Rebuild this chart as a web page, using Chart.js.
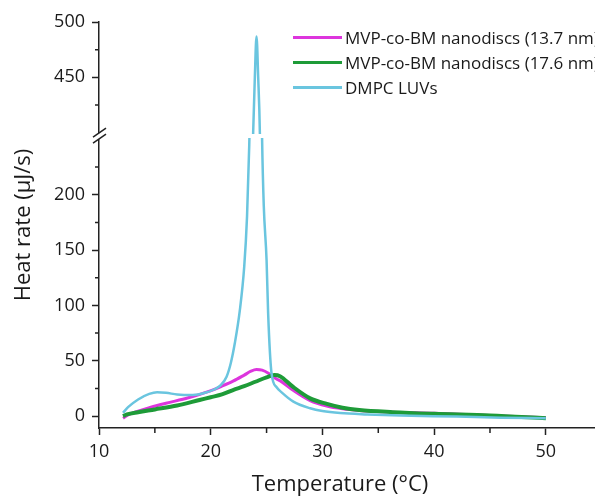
<!DOCTYPE html>
<html>
<head>
<meta charset="utf-8">
<script src="https://cdn.jsdelivr.net/npm/chart.js@4.4.1/dist/chart.umd.min.js"></script>
<style>
body { margin: 0; background: #fff; overflow: hidden; }
#wrap { position: relative; width: 595px; height: 496px; overflow: hidden; }
#legend { position: absolute; left: 293px; top: 25px; font: 17px 'Open Sans', sans-serif; color: #1a1a1a; white-space: nowrap; }
.row { height: 25px; display: flex; align-items: center; }
.row .ln { display: inline-block; width: 49px; height: 3px; margin-right: 3px; }
</style>
</head>
<body>
<div id="wrap"><canvas id="c" width="595" height="496"></canvas><div id="legend"></div></div>
<script>
// values
const dmpcT = [12.15, 12.6, 13.5, 14.5, 15.2, 16, 17, 18.4, 19.5, 20.3, 20.9, 21.42, 21.8, 22.16, 22.6, 23.0, 23.25, 23.45, 23.8, 23.95, 24.1,
               24.25, 24.4, 24.6, 24.75, 25.0, 25.14, 25.44, 25.9, 26.4, 27.4, 28.9, 30, 31.6, 34, 37, 42, 46, 50];
const dmpcV = [3, 8, 15, 20, 21.5, 21, 19.5, 19, 21, 24, 28, 35.6, 48, 66, 95, 135, 180, 245, 400, 450, 487,
               450, 400, 250, 190, 141, 93, 39, 26, 21, 13, 7, 4.5, 2.7, 1.5, 0.5, -0.5, -1.5, -2];

const nd137T = [12.15, 12.6, 13.5, 14.5, 16, 18, 19.9, 21, 22, 23, 23.6, 24.1, 24.6, 25.2, 25.9, 26.2, 27.35, 28.9, 30.4, 31.8, 33.3, 36.3, 40, 45, 50];
const nd137V = [-2, 1, 4.5, 7.5, 11.5, 16.5, 22.5, 27, 31.5, 37, 40.5, 42, 41.5, 38.5, 33.5, 32, 23.5, 14, 9, 6.5, 5, 3.5, 2.5, 0.5, -1.5];

const nd176T = [12.15, 12.5, 13.5, 15, 17, 19, 20, 21, 22, 23, 24, 25, 25.7, 26.2, 27.35, 28.9, 30.4, 31.8, 33.3, 36.3, 40, 45, 50];
const nd176V = [0, 1.5, 3.5, 6, 9.5, 14.5, 17, 19.5, 23.5, 27, 31, 35, 37, 36, 26.5, 16, 11, 7.5, 5.4, 3.5, 2, 0.5, -2];

const seriesNames = ['MVP-co-BM nanodiscs (13.7 nm)', 'MVP-co-BM nanodiscs (17.6 nm)', 'DMPC LUVs'];
const seriesColors = ['#dd35dd', '#1e9b38', '#6ac5df'];

const xTicks = [10, 20, 30, 40, 50];
const xMinor = [15, 25, 35, 45];
const yLowTicks = [0, 50, 100, 150, 200];
const yLowMinor = [25, 75, 125, 175, 225];
const yHighTicks = [450, 500];
const yHighMinor = [425, 475];

const xy = (ts, vs) => ts.map((t, i) => ({ x: t, y: vs[i] }));

document.getElementById('legend').innerHTML = seriesNames.map((n, i) =>
  `<div class="row"><span class="ln" style="background:${seriesColors[i]}"></span>${n}</div>`).join('');

const axisColor = '#222';
const tickFont = { family: "'Open Sans', sans-serif", size: 18 };

const breakPlugin = {
  id: 'axisBreak',
  beforeDatasetDraw(chart, args) {
    const id = args.meta.yAxisID;
    const ys = chart.scales[id];
    const a = chart.chartArea;
    const top = id === 'yLow' ? ys.top + 2 : a.top - 10;
    const bottom = id === 'yLow' ? ys.bottom : ys.bottom - 2;
    const ctx = chart.ctx;
    ctx.save();
    ctx.beginPath();
    ctx.rect(a.left, top, a.right - a.left, bottom - top);
    ctx.clip();
  },
  afterDatasetDraw(chart) { chart.ctx.restore(); },
  afterDraw(chart) {
    const ctx = chart.ctx;
    const { x, yLow, yHigh } = chart.scales;
    const left = chart.chartArea.left, bottom = chart.chartArea.bottom;
    ctx.save();
    ctx.strokeStyle = axisColor;
    ctx.lineWidth = 1.5;
    ctx.beginPath();
    yLowMinor.forEach(v => { const p = yLow.getPixelForValue(v); ctx.moveTo(left - 4, p); ctx.lineTo(left, p); });
    yHighMinor.forEach(v => { const p = yHigh.getPixelForValue(v); ctx.moveTo(left - 4, p); ctx.lineTo(left, p); });
    xMinor.forEach(v => { const p = x.getPixelForValue(v); ctx.moveTo(p, bottom); ctx.lineTo(p, bottom + 5); });
    ctx.stroke();
    // axis break
    const yb = yLow.top;
    ctx.fillStyle = '#fff';
    ctx.fillRect(left - 3, yb - 3, 6, 6);
    ctx.beginPath();
    ctx.moveTo(left - 6, yb + 1); ctx.lineTo(left + 7, yb - 8);
    ctx.moveTo(left - 6, yb + 7); ctx.lineTo(left + 7, yb - 2);
    ctx.stroke();
    // axis titles
    ctx.fillStyle = '#1a1a1a';
    ctx.font = "22px 'Open Sans', sans-serif";
    ctx.textAlign = 'center';
    ctx.textBaseline = 'middle';
    ctx.fillText('Temperature (°C)', 340, 485);
    ctx.translate(24, 225);
    ctx.rotate(-Math.PI / 2);
    ctx.fillText('Heat rate (μJ/s)', 0, 0);
    ctx.restore();
  }
};

const lineDs = (label, data, color, width, axis) => ({
  label, data, borderColor: color, borderWidth: width, yAxisID: axis,
  pointRadius: 0, cubicInterpolationMode: 'monotone', fill: false
});

const yCommon = (ticks) => ({
  type: 'linear', position: 'left', stack: 'y', bounds: 'data',
  border: { color: axisColor, width: 1.5 },
  grid: { drawOnChartArea: false, tickLength: 7, tickWidth: 1.5, tickColor: axisColor },
  ticks: { stepSize: 25, includeBounds: false, padding: 7, color: '#1a1a1a', font: tickFont },
  afterBuildTicks: s => { s.ticks = ticks.map(v => ({ value: v })); },
  afterFit: s => { s.width = 99; }
});

new Chart(document.getElementById('c'), {
  type: 'line',
  data: {
    datasets: [
      lineDs(seriesNames[2], xy(dmpcT, dmpcV), seriesColors[2], 2.5, 'yHigh'),
      lineDs(seriesNames[2], xy(dmpcT, dmpcV), seriesColors[2], 2.5, 'yLow'),
      lineDs(seriesNames[1], xy(nd176T, nd176V), seriesColors[1], 4, 'yLow'),
      lineDs(seriesNames[0], xy(nd137T, nd137V), seriesColors[0], 3, 'yLow')
    ]
  },
  options: {
    responsive: false,
    animation: false,
    layout: { padding: { top: 22, right: 0, left: 0, bottom: 0 } },
    plugins: { legend: { display: false }, tooltip: { enabled: false } },
    scales: {
      x: {
        type: 'linear', min: 10, max: 54.4, bounds: 'data',
        border: { color: axisColor, width: 1.5 },
        grid: { drawOnChartArea: false, tickLength: 7, tickWidth: 1.5, tickColor: axisColor },
        ticks: { stepSize: 10, includeBounds: false, padding: 6, color: '#1a1a1a', font: tickFont, maxRotation: 0 },
        afterBuildTicks: s => { s.ticks = xTicks.map(v => ({ value: v })); },
        afterFit: s => { s.height = 68; }
      },
      yLow: Object.assign(yCommon(yLowTicks), { min: -10.8, max: 253, stackWeight: 263.8 }),
      yHigh: Object.assign(yCommon(yHighTicks), { min: 396.9, max: 500, stackWeight: 103.1 })
    }
  },
  plugins: [breakPlugin]
});
</script>
</body>
</html>
